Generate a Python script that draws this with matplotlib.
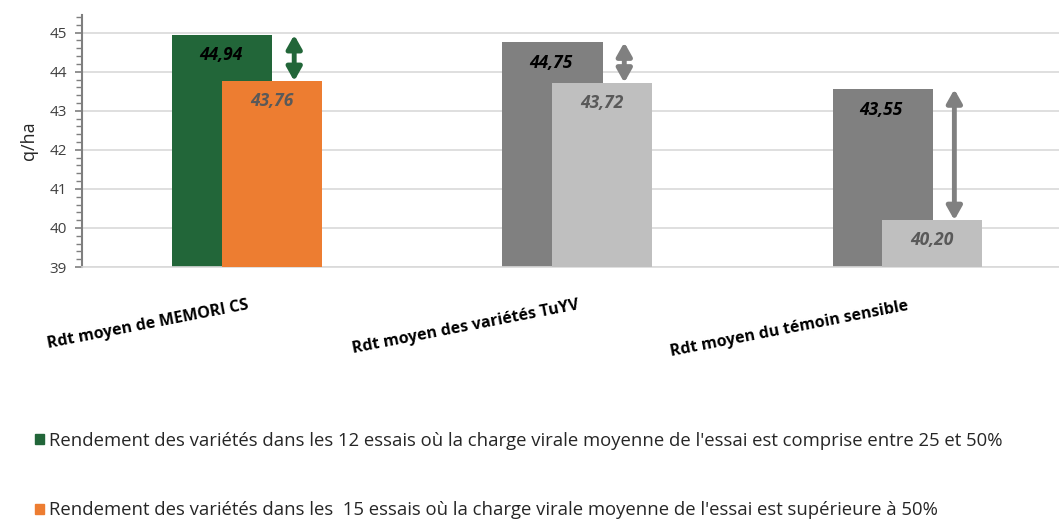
import matplotlib
matplotlib.use("Agg")
import matplotlib.pyplot as plt
from matplotlib.ticker import MultipleLocator
import numpy as np

plt.rcParams["font.family"] = ["Open Sans", "DejaVu Sans"]

categories = ["Rdt moyen de MEMORI CS", "Rdt moyen des variétés TuYV",
              "Rdt moyen du témoin sensible"]
rdt_25_50 = [44.94, 44.75, 43.55]
rdt_sup_50 = [43.76, 43.72, 40.20]
legend_labels = [
    "Rendement des variétés dans les 12 essais où la charge virale moyenne de l'essai est comprise entre 25 et 50%",
    "Rendement des variétés dans les  15 essais où la charge virale moyenne de l'essai est supérieure à 50%",
]

GREEN = "#226639"
ORANGE = "#ED7D31"
DARK_GREY = "#808080"
LIGHT_GREY = "#BFBFBF"
colors_1 = [GREEN, DARK_GREY, DARK_GREY]
colors_2 = [ORANGE, LIGHT_GREY, LIGHT_GREY]
arrow_colors = [GREEN, DARK_GREY, DARK_GREY]

fig = plt.figure(figsize=(10.59, 5.19), dpi=100)
ax = fig.add_axes([0.0774, 0.4855, 0.9226, 0.4855])

x = np.arange(len(categories))
width = 0.303
offset = 0.0745
bars1 = ax.bar(x - offset, np.array(rdt_25_50) - 39, width, bottom=39,
               color=colors_1, zorder=2)
bars2 = ax.bar(x + offset, np.array(rdt_sup_50) - 39, width, bottom=39,
               color=colors_2, zorder=3)

# etiquettes de valeur, format francais
for xi, v in zip(x - offset, rdt_25_50):
    ax.text(xi - 0.005, v - 0.52, f"{v:.2f}".replace(".", ","), ha="center",
            va="center", fontsize=12.5, fontweight="bold", style="italic",
            color="black", zorder=4)
for xi, v in zip(x + offset, rdt_sup_50):
    ax.text(xi, v - 0.52, f"{v:.2f}".replace(".", ","), ha="center",
            va="center", fontsize=12.5, fontweight="bold", style="italic",
            color="#595959", zorder=4)

# fleches d'ecart
for xi, a, b, c in zip(x, rdt_25_50, rdt_sup_50, arrow_colors):
    ax.annotate("", xy=(xi + 0.143, b), xytext=(xi + 0.143, a),
                arrowprops=dict(arrowstyle="<|-|>,head_length=0.8,head_width=0.45",
                                color=c, lw=3.5, shrinkA=0, shrinkB=0),
                zorder=5)

ax.set_xlim(-0.5, 2.46)
ax.set_ylim(39, 45.45)
ax.yaxis.set_major_locator(MultipleLocator(1))
ax.yaxis.set_minor_locator(MultipleLocator(0.2))
ax.grid(axis="y", color="#D9D9D9", linewidth=1.2, zorder=0)
ax.set_axisbelow(True)

for s in ["top", "right"]:
    ax.spines[s].set_visible(False)
ax.spines["left"].set_color("#7F7F7F")
ax.spines["left"].set_linewidth(1.5)
ax.spines["bottom"].set_color("#D9D9D9")
ax.spines["bottom"].set_linewidth(1.2)

ax.tick_params(axis="y", which="major", length=5, width=1.2, color="#7F7F7F",
               labelsize=11, labelcolor="#404040", pad=6)
ax.tick_params(axis="y", which="minor", length=4, width=1, color="#7F7F7F")
ax.tick_params(axis="x", length=0, pad=22)

ax.set_xticks(x)
ax.set_xticklabels(categories, rotation=11, ha="right",
                   rotation_mode="anchor", fontsize=11.5, fontweight="bold")
ax.set_ylabel("q/ha", fontsize=13, color="#262626", labelpad=8)

handles = [plt.Rectangle((0, 0), 1, 1, color=GREEN),
           plt.Rectangle((0, 0), 1, 1, color=ORANGE)]
fig.legend(handles, legend_labels, loc="upper left",
           bbox_to_anchor=(0.024, 0.186), frameon=False, fontsize=13.3,
           handlelength=0.5, handleheight=0.5, handletextpad=0.3,
           labelspacing=2.8, labelcolor="#262626", borderpad=0)

fig.savefig("out.png", dpi=100)
